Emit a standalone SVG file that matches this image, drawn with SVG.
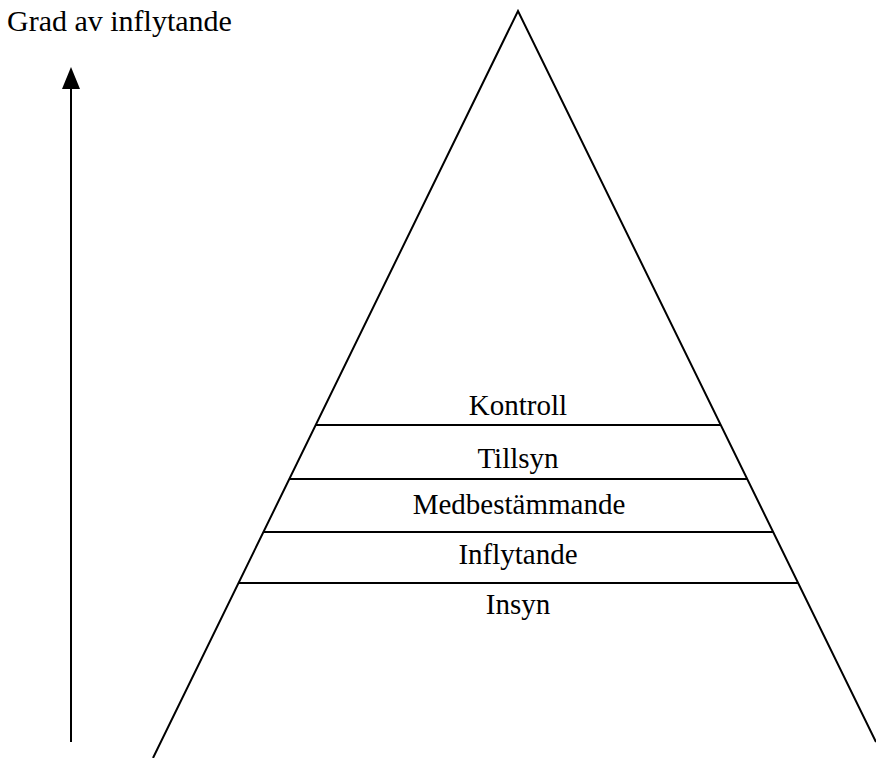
<svg xmlns="http://www.w3.org/2000/svg" width="876" height="758" viewBox="0 0 876 758">
<style>
.t{font-family:"Liberation Serif","Times New Roman",serif;font-size:29px;fill:#000}
.c{text-anchor:middle}
.l{stroke:#000;stroke-width:2;fill:none}
</style>
<rect width="876" height="758" fill="#fff"/>
<g id="title"><text class="t" x="7" y="31" style="font-size:30px">Grad av inflytande</text></g>
<g id="connectors">
<line class="l" x1="71" y1="742" x2="71" y2="86"/>
<polygon points="71,67 62,89 80,89" fill="#000"/>
</g>
<g id="pyramid">
<polyline class="l" points="153,758 518,11 876,742"/>
<line class="l" x1="316" y1="425" x2="721" y2="425"/>
<line class="l" x1="289" y1="479" x2="747" y2="479"/>
<line class="l" x1="263" y1="532" x2="773" y2="532"/>
<line class="l" x1="239" y1="583" x2="798" y2="583"/>
</g>
<g id="kontroll"><text class="t c" x="518" y="415">Kontroll</text></g>
<g id="tillsyn"><text class="t c" x="518" y="468">Tillsyn</text></g>
<g id="medbestammande"><text class="t c" x="519" y="514">Medbestämmande</text></g>
<g id="inflytande"><text class="t c" x="518" y="564">Inflytande</text></g>
<g id="insyn"><text class="t c" x="518" y="614">Insyn</text></g>
</svg>
